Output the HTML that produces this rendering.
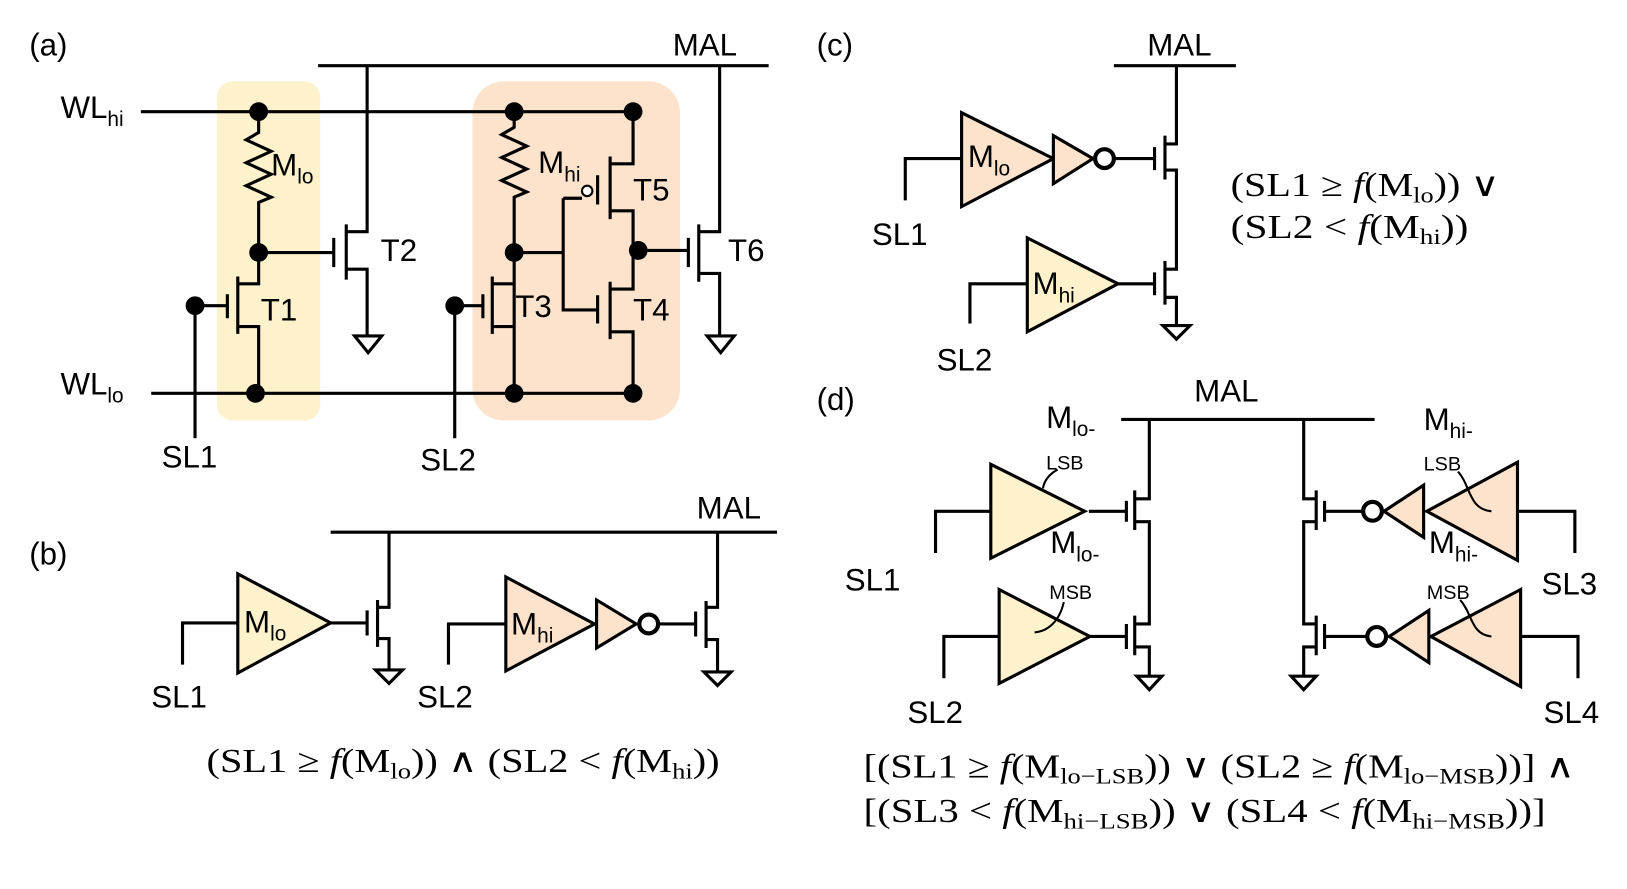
<!DOCTYPE html>
<html><head><meta charset="utf-8"><style>
html,body{margin:0;padding:0;background:#fff;}
svg{display:block}
text{font-family:"Liberation Sans Narrow","Liberation Sans",sans-serif;fill:#000}
.s{font-size:30px}
.sub{font-size:20px}
.m{font-family:"Liberation Serif","DejaVu Serif",serif;font-size:32px}
.ms{font-family:"Liberation Serif","DejaVu Serif",serif;font-size:21px}
</style></head><body>
<svg width="1627" height="889" viewBox="0 0 1560 852" preserveAspectRatio="none" xmlns="http://www.w3.org/2000/svg">
<g fill="none" stroke="#000" stroke-width="3">
<rect x="208" y="78" width="99" height="325" rx="15" fill="#fdf2cc" stroke="none"/>
<rect x="453" y="78" width="199" height="325" rx="30" fill="#fde3cc" stroke="none"/>
<path d="M305 63H737M352 63V222H332M690 63V222H670"/>
<path d="M135 107H607M145 377H607"/>
<path d="M248 107V127L236 134L260 145L236 156L260 167L236 178L260 189L248 194V242"/>
<path d="M248 242H320M320 228V256M332 215V268M332 258H352V322"/>
<path d="M340 322H366L353 338Z"/>
<path d="M187 293H218M218 282V305M228 265V320M228 272H248V242M228 313H248V377M187 293V420"/>
<path d="M493 107V122L481 129L505 140L481 151L505 162L481 173L505 184L493 189V377"/>
<path d="M493 242H540M540 190V297H573M540 190H558M573 283V310M585 270V325M585 277H607V240M585 318H607V377"/>
<circle cx="563" cy="183" r="5" fill="#fff" stroke-width="2"/>
<path d="M573 168V196M585 150V210M585 157H607V107M585 202H607V242"/>
<path d="M436 293H463M463 282V305M472 265V320M472 272H493M472 313H493M436 293V420"/>
<path d="M607 240H660M660 228V256M670 215V270M670 262H690V322"/>
<path d="M678 322H704L691 338Z"/>

<path d="M317 510H745M373 510V582H362M688 510V582H677"/>
<path d="M228 550V645L317 597Z" fill="#fdf2cc"/>
<path d="M175 637V597H228M317 597H352M352 585V609M362 575V620M362 612H373V642"/>
<path d="M360 642H386L373 655Z"/>
<path d="M485 553V643L570 598Z" fill="#fde3cc"/>
<path d="M572 575V621L610 598Z" fill="#fde3cc"/>
<circle cx="622" cy="598" r="9" stroke-width="4"/>
<path d="M430 637V598H485M631 598H667M667 586V610M677 576V621M677 613H688V644"/>
<path d="M675 644H701L688 657Z"/>

<path d="M1068 63H1185M1128 63V138H1117M1117 130V172M1107 141V163M1117 163H1128V258H1117M1117 250V292M1107 261V283M1117 285H1128V312"/>
<path d="M922 108V198L1010 152Z" fill="#fde3cc"/>
<path d="M1010 130V176L1048 152Z" fill="#fde3cc"/>
<circle cx="1059" cy="152" r="9" stroke-width="4"/>
<path d="M868 192V152H922M1068 152H1107"/>
<path d="M985 228V318L1072 272Z" fill="#fdf2cc"/>
<path d="M930 310V272H985M1072 272H1107"/>
<path d="M1115 312H1141L1128 325Z"/>

<path d="M1075 402H1318M1102 402V478H1088M1088 470V508M1080 480V500M1088 500H1102V598H1088M1088 590V628M1080 598V622M1088 620H1102V648"/>
<path d="M1090 648H1114L1102 661Z"/>
<path d="M1250 402V478H1262M1262 470V508M1270 480V500M1262 500H1250V598H1262M1262 590V628M1270 598V622M1262 620H1250V648"/>
<path d="M1238 648H1262L1250 661Z"/>
<path d="M950 445V535L1040 490Z" fill="#fdf2cc"/>
<path d="M897 530V490H950M1044 490H1080"/>
<path d="M1014 450C1005 455 1001 462 1000 468" stroke-width="2"/>
<path d="M958 565V655L1045 610Z" fill="#fdf2cc"/>
<path d="M905 650V610H958M1045 610H1080"/>
<path d="M1020 577C1016 595 1005 605 992 606" stroke-width="2"/>
<path d="M1455 443V537L1368 490Z" fill="#fde3cc"/>
<path d="M1365 465V515L1327 490Z" fill="#fde3cc"/>
<circle cx="1316" cy="490" r="9" stroke-width="4"/>
<path d="M1270 490H1306M1455 490H1510V530"/>
<path d="M1398 452C1410 465 1408 488 1430 490" stroke-width="2"/>
<path d="M1458 565V658L1372 610Z" fill="#fde3cc"/>
<path d="M1370 585V635L1332 610Z" fill="#fde3cc"/>
<circle cx="1320" cy="610" r="9" stroke-width="4"/>
<path d="M1270 610H1310M1458 610H1513V650"/>
<path d="M1400 575C1412 588 1410 608 1430 610" stroke-width="2"/>
</g>
<circle cx="248" cy="107" r="9"/><circle cx="493" cy="107" r="9"/><circle cx="607" cy="107" r="9"/>
<circle cx="248" cy="242" r="9"/><circle cx="493" cy="242" r="9"/><circle cx="612" cy="240" r="9"/>
<circle cx="187" cy="293" r="9"/><circle cx="436" cy="293" r="9"/>
<circle cx="245" cy="377" r="9"/><circle cx="493" cy="377" r="9"/><circle cx="607" cy="377" r="9"/>

<text class="s" x="28" y="53">(a)</text>
<text class="s" x="645" y="53">MAL</text>
<text class="s" x="58" y="113">WL<tspan class="sub" dy="8">hi</tspan></text>
<text class="s" x="58" y="378">WL<tspan class="sub" dy="8">lo</tspan></text>
<text class="s" x="260" y="168">M<tspan class="sub" dy="8">lo</tspan></text>
<text class="s" x="516" y="166">M<tspan class="sub" dy="8">hi</tspan></text>
<text class="s" x="365" y="250">T2</text>
<text class="s" x="250" y="307">T1</text>
<text class="s" x="494" y="304">T3</text>
<text class="s" x="607" y="192">T5</text>
<text class="s" x="607" y="307">T4</text>
<text class="s" x="698" y="250">T6</text>
<text class="s" x="155" y="448">SL1</text>
<text class="s" x="403" y="451">SL2</text>
<text class="s" x="28" y="541">(b)</text>
<text class="s" x="668" y="497">MAL</text>
<text class="s" x="234" y="606">M<tspan class="sub" dy="8">lo</tspan></text>
<text class="s" x="490" y="608">M<tspan class="sub" dy="8">hi</tspan></text>
<text class="s" x="145" y="678">SL1</text>
<text class="s" x="400" y="678">SL2</text>
<text class="m" x="198" y="740" textLength="492" lengthAdjust="spacingAndGlyphs">(SL1 ≥ <tspan font-style="italic">f</tspan>(M<tspan class="ms" dy="6">lo</tspan><tspan dy="-6">)) ∧ (SL2 &lt; </tspan><tspan font-style="italic">f</tspan>(M<tspan class="ms" dy="6">hi</tspan><tspan dy="-6">))</tspan></text>
<text class="s" x="783" y="53">(c)</text>
<text class="s" x="1100" y="53">MAL</text>
<text class="s" x="928" y="160">M<tspan class="sub" dy="8">lo</tspan></text>
<text class="s" x="990" y="282">M<tspan class="sub" dy="8">hi</tspan></text>
<text class="s" x="836" y="235">SL1</text>
<text class="s" x="898" y="355">SL2</text>
<text class="m" x="1180" y="188" textLength="258" lengthAdjust="spacingAndGlyphs">(SL1 ≥ <tspan font-style="italic">f</tspan>(M<tspan class="ms" dy="6">lo</tspan><tspan dy="-6">)) ∨</tspan></text>
<text class="m" x="1180" y="228" textLength="228" lengthAdjust="spacingAndGlyphs">(SL2 &lt; <tspan font-style="italic">f</tspan>(M<tspan class="ms" dy="6">hi</tspan><tspan dy="-6">))</tspan></text>
<text class="s" x="783" y="393">(d)</text>
<text class="s" x="1145" y="385">MAL</text>
<text class="s" x="1003" y="410">M<tspan class="sub" dy="8">lo-</tspan></text>
<text font-size="19" x="1003" y="450">LSB</text>
<text class="s" x="1007" y="530">M<tspan class="sub" dy="8">lo-</tspan></text>
<text font-size="19" x="1006" y="574">MSB</text>
<text class="s" x="1365" y="412">M<tspan class="sub" dy="8">hi-</tspan></text>
<text font-size="19" x="1365" y="451">LSB</text>
<text class="s" x="1370" y="530">M<tspan class="sub" dy="8">hi-</tspan></text>
<text font-size="19" x="1368" y="574">MSB</text>
<text class="s" x="810" y="566">SL1</text>
<text class="s" x="870" y="693">SL2</text>
<text class="s" x="1478" y="570">SL3</text>
<text class="s" x="1480" y="693">SL4</text>
<text class="m" x="828" y="745" textLength="682" lengthAdjust="spacingAndGlyphs">[(SL1 ≥ <tspan font-style="italic">f</tspan>(M<tspan class="ms" dy="6">lo−LSB</tspan><tspan dy="-6">)) ∨ (SL2 ≥ </tspan><tspan font-style="italic">f</tspan>(M<tspan class="ms" dy="6">lo−MSB</tspan><tspan dy="-6">))] ∧</tspan></text>
<text class="m" x="828" y="788" textLength="654" lengthAdjust="spacingAndGlyphs">[(SL3 &lt; <tspan font-style="italic">f</tspan>(M<tspan class="ms" dy="6">hi−LSB</tspan><tspan dy="-6">)) ∨ (SL4 &lt; </tspan><tspan font-style="italic">f</tspan>(M<tspan class="ms" dy="6">hi−MSB</tspan><tspan dy="-6">))]</tspan></text>
</svg>
</body></html>
